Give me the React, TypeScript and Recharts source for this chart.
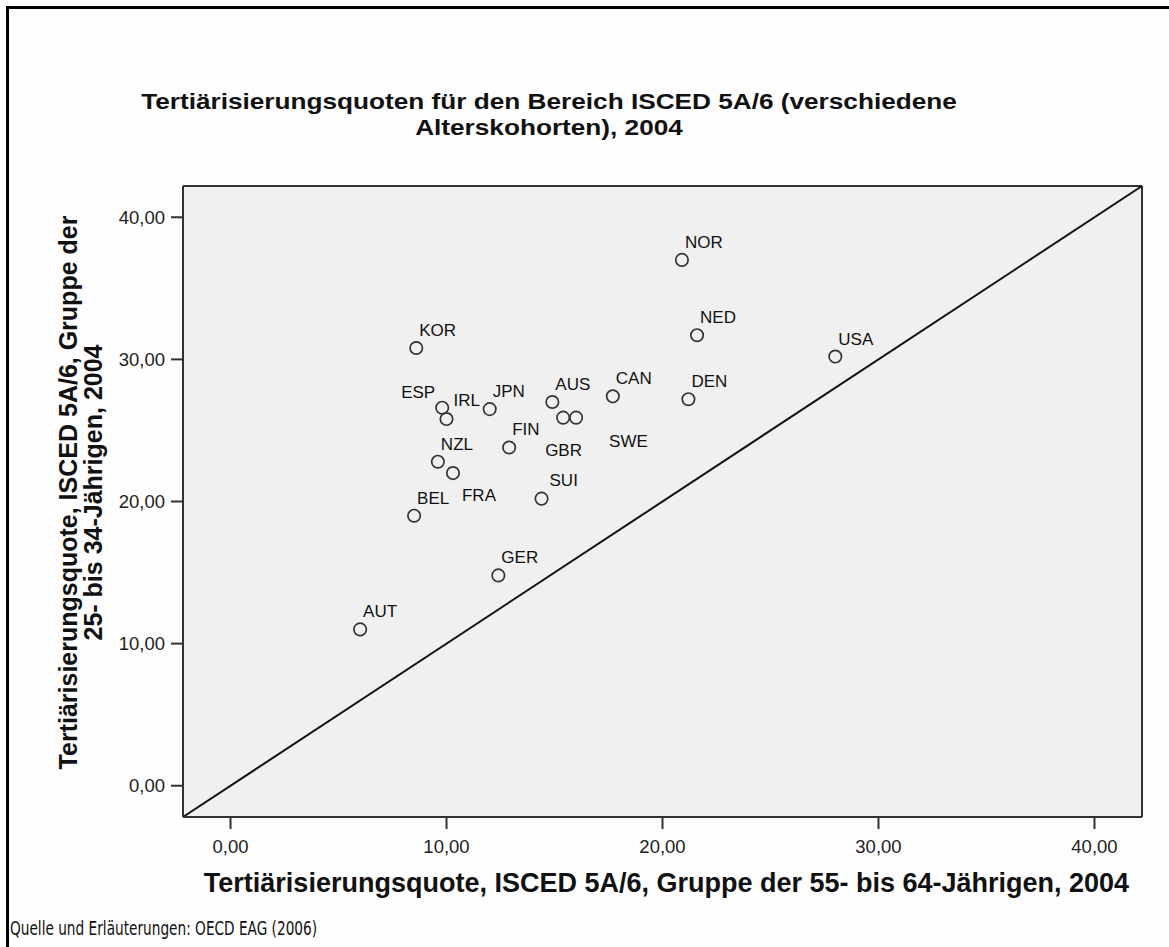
import { CartesianGrid, Label, ReferenceLine, Scatter, ScatterChart, XAxis, YAxis } from "recharts";

// Tertiärisierungsquoten ISCED 5A/6, OECD EAG 2006
const COUNTRIES = ["NOR", "NED", "USA", "DEN", "CAN", "AUS", "GBR", "SWE", "JPN", "ESP", "IRL", "KOR", "FIN", "NZL", "FRA", "BEL", "SUI", "GER", "AUT"];
const AGE_55_64 = [20.9, 21.6, 28.0, 21.2, 17.7, 14.9, 15.4, 16.0, 12.0, 9.8, 10.0, 8.6, 12.9, 9.6, 10.3, 8.5, 14.4, 12.4, 6.0];
const AGE_25_34 = [37.0, 31.7, 30.2, 27.2, 27.4, 27.0, 25.9, 25.9, 26.5, 26.6, 25.8, 30.8, 23.8, 22.8, 22.0, 19.0, 20.2, 14.8, 11.0];
const TICKS = [0, 10, 20, 30, 40];
const DOMAIN: [number, number] = [-2.2, 42.2];
const TITLE_LINES = ["Tertiärisierungsquoten für den Bereich ISCED 5A/6 (verschiedene", "Alterskohorten), 2004"];

const FONT = "'Liberation Sans', Arial, sans-serif";

// where SPSS moved a label away from its point
const LABEL_OFFSET: Record<string, [number, number]> = {
  ESP: [-41, -10],
  IRL: [7, -13],
  GBR: [-18, 38],
  SWE: [33, 29],
  FRA: [9, 28],
  SUI: [8, -13],
};
const DEFAULT_OFFSET: [number, number] = [3, -12];

const data = COUNTRIES.map((name, i) => ({ name, x: AGE_55_64[i], y: AGE_25_34[i] }));

const fmt = (v: number) => v.toFixed(2).replace(".", ",");

function CountryMark(props: any) {
  const { cx, cy, payload } = props;
  const [dx, dy] = LABEL_OFFSET[payload.name] ?? DEFAULT_OFFSET;
  return (
    <g>
      <circle cx={cx} cy={cy} r={6.2} fill="none" stroke="#333" strokeWidth={1.7} />
      <text x={cx + dx} y={cy + dy} fontSize={17} fontFamily={FONT} fill="#111">
        {payload.name}
      </text>
    </g>
  );
}

function YTitle(props: any) {
  const { x, y, height } = props.viewBox;
  const cx = x + 4;
  const cy = y + height / 2 - 9;
  return (
    <text transform={`rotate(-90, ${cx}, ${cy})`} x={cx} y={cy} textAnchor="middle" fontFamily={FONT} fontWeight="bold" fontSize={25} fill="#111">
      <tspan x={cx} dy={0}>Tertiärisierungsquote, ISCED 5A/6, Gruppe der</tspan>
      <tspan x={cx} dy={25}>25- bis 34-Jährigen, 2004</tspan>
    </text>
  );
}

function XTitle(props: any) {
  const { x, y, width } = props.viewBox;
  return (
    <text x={x + width / 2 + 4} y={y + 75} textAnchor="middle" fontFamily={FONT} fontWeight="bold" fontSize={27} fill="#111">
      Tertiärisierungsquote, ISCED 5A/6, Gruppe der 55- bis 64-Jährigen, 2004
    </text>
  );
}

export default function App() {
  return (
    <div style={{ position: "relative", width: 1169, height: 947, background: "#fff", fontFamily: FONT }}>
      <style>{"body{margin:0}"}</style>
      <div
        style={{
          position: "absolute",
          left: 6,
          top: 6,
          width: 1163,
          height: 941,
          borderLeft: "3px solid #000",
          borderTop: "3px solid #000",
          background: "#fdfdfd",
        }}
      />
      {TITLE_LINES.map((line, i) => (
        <div
          key={i}
          style={{
            position: "absolute",
            left: 0,
            top: 89 + i * 26,
            width: 1098,
            textAlign: "center",
            fontSize: 22,
            lineHeight: "26px",
            fontWeight: "bold",
            color: "#111",
            whiteSpace: "nowrap",
            transform: "scaleX(1.19)",
            transformOrigin: "center",
          }}
        >
          {line}
        </div>
      ))}
      <div style={{ position: "absolute", top: 0, left: 0 }}>
        <ScatterChart width={1169} height={947} margin={{ top: 186, right: 27, bottom: 40, left: 73 }}>
          <CartesianGrid fill="#f0f0f0" horizontal={false} vertical={false} />
          <XAxis
            type="number"
            dataKey="x"
            domain={DOMAIN}
            ticks={TICKS}
            tickFormatter={fmt}
            height={90}
            tickSize={12}
            tickMargin={11}
            axisLine={{ stroke: "#333", strokeWidth: 2 }}
            tickLine={{ stroke: "#333", strokeWidth: 2 }}
            tick={{ fill: "#222", fontSize: 18.5, fontFamily: FONT }}
          >
            <Label content={XTitle} />
          </XAxis>
          <YAxis
            type="number"
            dataKey="y"
            domain={DOMAIN}
            ticks={TICKS}
            tickFormatter={fmt}
            width={110}
            tickSize={12}
            tickMargin={6}
            axisLine={{ stroke: "#333", strokeWidth: 2 }}
            tickLine={{ stroke: "#333", strokeWidth: 2 }}
            tick={{ fill: "#222", fontSize: 18.5, fontFamily: FONT }}
          >
            <Label content={YTitle} />
          </YAxis>
          <ReferenceLine y={DOMAIN[1]} stroke="#333" strokeWidth={2} />
          <ReferenceLine x={DOMAIN[1]} stroke="#333" strokeWidth={2} />
          <ReferenceLine
            segment={[
              { x: DOMAIN[0], y: DOMAIN[0] },
              { x: DOMAIN[1], y: DOMAIN[1] },
            ]}
            stroke="#111"
            strokeWidth={2}
          />
          <Scatter data={data} shape={CountryMark} isAnimationActive={false} />
        </ScatterChart>
      </div>
      <div
        style={{
          position: "absolute",
          left: 10,
          top: 917,
          fontSize: 19,
          lineHeight: "22px",
          color: "#111",
          fontFamily: "'DejaVu Sans Condensed', 'DejaVu Sans', sans-serif",
          transform: "scaleX(0.8)",
          transformOrigin: "left center",
          whiteSpace: "nowrap",
        }}
      >
        Quelle und Erläuterungen: OECD EAG (2006)
      </div>
    </div>
  );
}
